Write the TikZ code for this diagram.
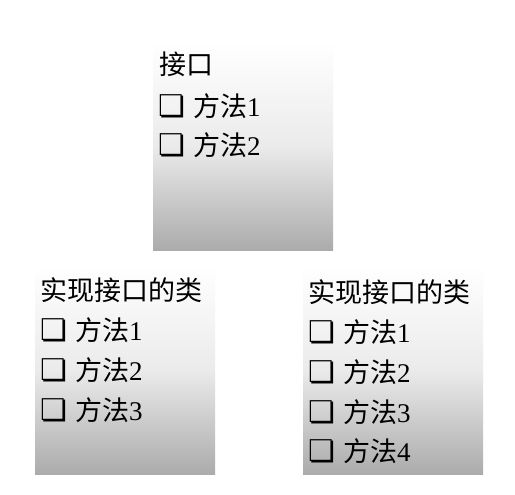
\documentclass[tikz,border=0pt]{standalone}
\usepackage{fontspec}
\setmainfont{Liberation Serif}
\newfontfamily\cjk{Noto Sans CJK SC}
\newfontfamily\sym{DejaVu Sans}
\newcommand{\cbx}{{\sym\fontsize{30pt}{30pt}\selectfont ❏}}
\begin{document}
\begin{tikzpicture}[x=1pt,y=1pt,
  box/.style={top color=white, bottom color=black!33, middle color=black!8, draw=none},
  ttl/.style={anchor=west, inner sep=0pt, font=\fontsize{27pt}{27pt}\selectfont\cjk},
  row/.style={anchor=west, inner sep=0pt, font=\fontsize{27pt}{27pt}\selectfont}]
\useasboundingbox (0,0) rectangle (515,495);
\fill[white] (0,0) rectangle (515,495);
% top box: x 153-333, y 42-251
\shade[box] (153,{495-251}) rectangle (333,{495-42});
\node[ttl] (itf) at (159,{495-64}) {接口};
\node[row] (i1) at (158,{495-106}) {\cbx\hspace{8pt}{\cjk 方法}1};
\node[row] (i2) at (158,{495-145}) {\cbx\hspace{8pt}{\cjk 方法}2};
% left box: x 35-215, y 265-475
\shade[box] (35,{495-475}) rectangle (215,{495-265});
\node[ttl] (lt) at (40,{495-290}) {实现接口的类};
\node[row] (l1) at (40,{495-330}) {\cbx\hspace{8pt}{\cjk 方法}1};
\node[row] (l2) at (40,{495-370}) {\cbx\hspace{8pt}{\cjk 方法}2};
\node[row] (l3) at (40,{495-410}) {\cbx\hspace{8pt}{\cjk 方法}3};
% right box: x 303-483, y 265-475
\shade[box] (303,{495-475}) rectangle (483,{495-265});
\node[ttl] (rt) at (308,{495-292}) {实现接口的类};
\node[row] (r1) at (308,{495-332}) {\cbx\hspace{8pt}{\cjk 方法}1};
\node[row] (r2) at (308,{495-372}) {\cbx\hspace{8pt}{\cjk 方法}2};
\node[row] (r3) at (308,{495-412}) {\cbx\hspace{8pt}{\cjk 方法}3};
\node[row] (r4) at (308,{495-451}) {\cbx\hspace{8pt}{\cjk 方法}4};
\end{tikzpicture}
\end{document}
